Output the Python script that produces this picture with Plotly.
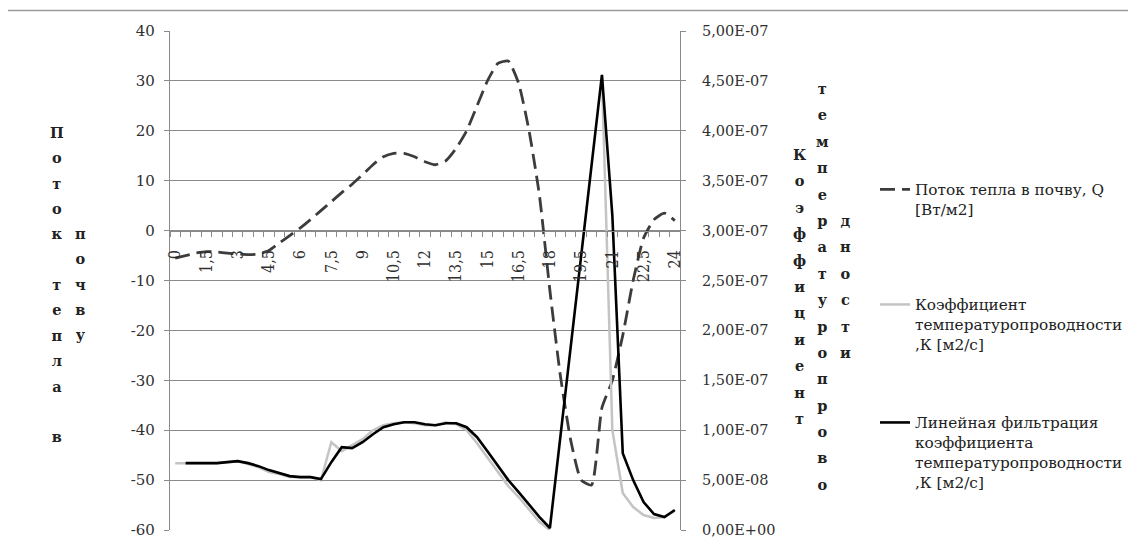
import plotly.graph_objects as go

# ---------------- data ----------------
hours = [0, 0.5, 1, 1.5, 2, 2.5, 3, 3.5, 4, 4.5, 5, 5.5, 6, 6.5, 7, 7.5, 8, 8.5,
         9, 9.5, 10, 10.5, 11, 11.5, 12, 12.5, 13, 13.5, 14, 14.5, 15, 15.5, 16,
         16.5, 17, 17.5, 18, 18.5, 19, 19.5, 20, 20.5, 21, 21.5, 22, 22.5, 23,
         23.5, 24]

heat_flux = [-5.5, -5.0, -4.5, -4.2, -4.3, -4.5, -4.7, -4.8, -4.7, -4.0, -2.5,
             -1.0, 0.5, 2.2, 4.0, 5.8, 7.6, 9.3, 11.2, 13.2, 14.8, 15.5, 15.5,
             14.8, 13.8, 13.2, 14.0, 16.5, 20.0, 25.0, 30.0, 33.5, 34.0, 29.5,
             20.0, 7.0, -12.0, -29.0, -42.0, -50.0, -51.0, -35.5, -30.0, -21.0,
             -10.0, -1.5, 2.2, 3.5, 2.0]

diffusivity_raw = [6.7e-8, 6.7e-8, 6.7e-8, 6.7e-8, 6.7e-8, 6.8e-8, 6.9e-8, 6.6e-8,
                   6.3e-8, 5.8e-8, 5.6e-8, 5.3e-8, 5.3e-8, 5.3e-8, 5.0e-8, 8.8e-8,
                   7.9e-8, 8.5e-8, 9.1e-8, 1.0e-7, 1.05e-7, 1.07e-7, 1.08e-7,
                   1.07e-7, 1.05e-7, 1.05e-7, 1.08e-7, 1.06e-7, 1.0e-7, 8.7e-8,
                   7.3e-8, 5.8e-8, 4.4e-8, 3.3e-8, 2.0e-8, 8e-9, 0.0, None, None,
                   None, None, 4.56e-7, 1.0e-7, 3.7e-8, 2.3e-8, 1.5e-8, 1.2e-8,
                   1.3e-8, 1.9e-8]

diffusivity_filtered = [None, 6.7e-8, 6.7e-8, 6.7e-8, 6.7e-8, 6.8e-8, 6.9e-8,
                        6.7e-8, 6.4e-8, 6.0e-8, 5.7e-8, 5.4e-8, 5.3e-8, 5.3e-8,
                        5.1e-8, 6.8e-8, 8.3e-8, 8.2e-8, 8.8e-8, 9.6e-8, 1.03e-7,
                        1.06e-7, 1.08e-7, 1.08e-7, 1.06e-7, 1.05e-7, 1.07e-7,
                        1.07e-7, 1.03e-7, 9.3e-8, 7.9e-8, 6.4e-8, 5.0e-8, 3.8e-8,
                        2.5e-8, 1.3e-8, 2e-9, None, None, None, None, 4.56e-7,
                        3.15e-7, 7.7e-8, 5.0e-8, 2.8e-8, 1.6e-8, 1.3e-8, 2.0e-8]

x_tick_vals = [0, 1.5, 3, 4.5, 6, 7.5, 9, 10.5, 12, 13.5, 15, 16.5, 18, 19.5,
               21, 22.5, 24]
x_tick_text = ["0", "1,5", "3", "4,5", "6", "7,5", "9", "10,5", "12", "13,5",
               "15", "16,5", "18", "19,5", "21", "22,5", "24"]
left_tick_vals = [-60, -50, -40, -30, -20, -10, 0, 10, 20, 30, 40]
left_tick_text = ["-60", "-50", "-40", "-30", "-20", "-10", "0", "10", "20",
                  "30", "40"]
right_tick_vals = [0, 5e-8, 1e-7, 1.5e-7, 2e-7, 2.5e-7, 3e-7, 3.5e-7, 4e-7,
                   4.5e-7, 5e-7]
right_tick_text = ["0,00E+00", "5,00E-08", "1,00E-07", "1,50E-07", "2,00E-07",
                   "2,50E-07", "3,00E-07", "3,50E-07", "4,00E-07", "4,50E-07",
                   "5,00E-07"]

name_flux = "Поток тепла в почву, Q<br>[Вт/м2]"
name_raw = "Коэффициент<br>температуропроводности<br>,К [м2/с]"
name_filt = "Линейная фильтрация<br>коэффициента<br>температуропроводности<br>,К [м2/с]"

left_title_cols = ["Поток тепла в", "почву"]
right_title_cols = ["Коэффициент", "температуропрово", "дности"]

# ---------------- layout helpers ----------------
W, H = 1128, 546
L, R, T, B = 170, 680, 31, 530
PW, PH = R - L, B - T


def px_x(x):
    return (x - L) / PW


def px_y(y):
    return (B - y) / PH


GRID = "#8a8a8a"
FONT_X = "DejaVu Serif Condensed"
FONT = "DejaVu Serif"
TXT = "#303030"

fig = go.Figure()

fig.add_trace(go.Scatter(
    x=hours, y=heat_flux, name=name_flux, mode="lines",
    line=dict(color="#3c3c3c", width=2.8, dash="15px,7px", shape="spline",
              smoothing=0.5),
    yaxis="y", legend="legend"))

fig.add_trace(go.Scatter(
    x=hours, y=diffusivity_raw, name=name_raw, mode="lines",
    line=dict(color="#c4c4c4", width=2.5), connectgaps=False,
    yaxis="y2", legend="legend2"))

fig.add_trace(go.Scatter(
    x=hours, y=diffusivity_filtered, name=name_filt, mode="lines",
    line=dict(color="#000000", width=2.6), connectgaps=True,
    yaxis="y2", legend="legend3"))


def stacked(word, inner):
    letters = [c if c != " " else "\u00a0" for c in word]
    return "<br>".join(
        f"<span style='font-size:{inner}px'><b>{c}</b></span>" for c in letters)


annotations = []
for text, xpx in zip(left_title_cols, [57, 80]):
    annotations.append(dict(
        text=stacked(text, 14.5), x=px_x(xpx), y=px_y(284),
        xref="paper", yref="paper", xanchor="center", yanchor="middle",
        showarrow=False, font=dict(family=FONT, size=19.5, color="#222")))
for text, xpx in zip(right_title_cols, [800, 822, 845]):
    annotations.append(dict(
        text=stacked(text, 14.5), x=px_x(xpx), y=px_y(286),
        xref="paper", yref="paper", xanchor="center", yanchor="middle",
        showarrow=False, font=dict(family=FONT, size=20.3, color="#222")))

legend_common = dict(
    xanchor="left", yanchor="top", valign="top", bgcolor="rgba(0,0,0,0)",
    borderwidth=0, font=dict(family=FONT, size=15.3, color="#222"),
    x=px_x(875))

fig.update_layout(
    width=W, height=H,
    margin=dict(l=L, r=W - R, t=T, b=H - B, pad=0, autoexpand=False),
    paper_bgcolor="white", plot_bgcolor="white",
    showlegend=True,
    legend=dict(legend_common, y=px_y(173)),
    legend2=dict(legend_common, y=px_y(288)),
    legend3=dict(legend_common, y=px_y(406)),
    xaxis=dict(
        range=[-0.25, 24.25], anchor="free", position=0.6,
        tickmode="array", tickvals=x_tick_vals, ticktext=x_tick_text,
        tickangle=-90, ticks="outside", ticklen=0, ticklabelstandoff=12,
        tickfont=dict(family=FONT_X, size=16, color=TXT),
        showline=True, linecolor=GRID, linewidth=1.2, showgrid=False,
        zeroline=False,
        minor=dict(tickmode="linear", tick0=0.25, dtick=0.5, ticks="outside",
                   ticklen=5, tickcolor=GRID, tickwidth=1, showgrid=False)),
    yaxis=dict(
        range=[-60, 40], tickmode="array", tickvals=left_tick_vals,
        ticktext=left_tick_text,
        ticks="outside", ticklen=5, tickcolor=GRID, ticklabelstandoff=6,
        tickfont=dict(family=FONT, size=15, color=TXT),
        showline=True, linecolor=GRID, linewidth=1.2,
        showgrid=True, gridcolor=GRID, gridwidth=1, zeroline=False),
    yaxis2=dict(
        range=[0, 5e-7], overlaying="y", side="right", anchor="x",
        tickmode="array", tickvals=right_tick_vals, ticktext=right_tick_text,
        ticks="outside", ticklen=5, tickcolor=GRID, ticklabelstandoff=13,
        tickfont=dict(family=FONT, size=14.5, color=TXT),
        showline=True, linecolor=GRID, linewidth=1.2, showgrid=False,
        zeroline=False),
    annotations=annotations,
    shapes=[dict(type="line", xref="paper", yref="paper",
                 x0=px_x(8), x1=px_x(1128), y0=px_y(10.5), y1=px_y(10.5),
                 line=dict(color="#9a9a9a", width=1.5))],
)

fig.write_html("out.html")
